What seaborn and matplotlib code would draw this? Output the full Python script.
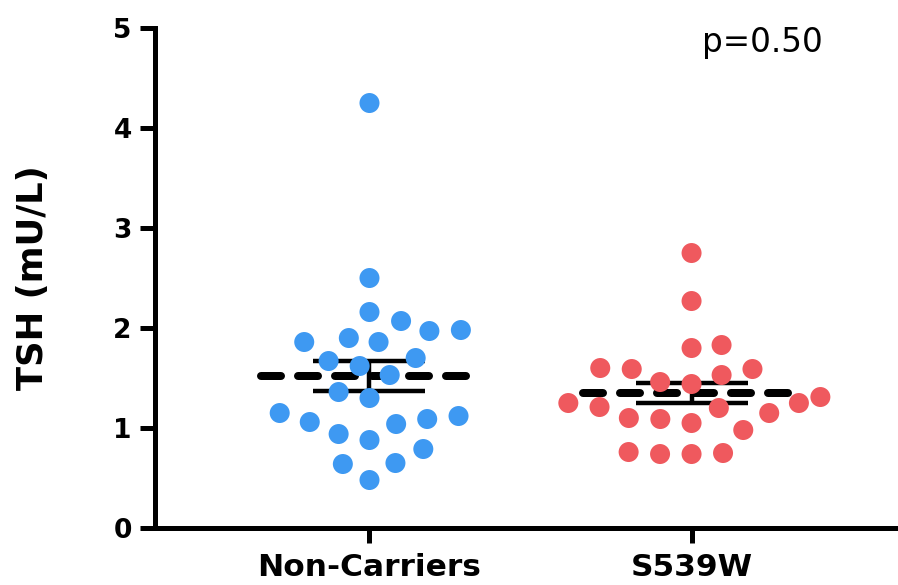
import numpy as np
import pandas as pd
import matplotlib
matplotlib.use("Agg")
import matplotlib.pyplot as plt
import seaborn as sns

# ---- data ----
categories = ["Non-Carriers", "S539W"]
non_carriers = [4.25, 2.50, 2.16, 1.98, 1.90, 1.86, 1.86, 1.97, 2.07, 1.70,
                1.67, 1.62, 1.53, 1.30, 1.36, 1.09, 1.12, 1.04, 1.15, 1.06,
                0.88, 0.94, 0.79, 0.65, 0.64, 0.48]
s539w = [2.75, 2.27, 1.83, 1.80, 1.59, 1.53, 1.59, 1.60, 1.44, 1.46,
         1.25, 1.21, 1.31, 1.25, 1.20, 1.15, 1.09, 1.05, 1.10, 0.98,
         0.75, 0.74, 0.74, 0.76]
y_ticks = [0, 1, 2, 3, 4, 5]
p_label = "p=0.50"
colors = ["#3E99F2", "#EF595E"]

df = pd.DataFrame({
    "group": [categories[0]] * len(non_carriers) + [categories[1]] * len(s539w),
    "TSH": non_carriers + s539w,
})

sns.set_style("white")
plt.rcParams["font.family"] = ["DejaVu Sans"]
plt.rcParams["lines.scale_dashes"] = False
for k in ["text.color", "axes.labelcolor", "xtick.color", "ytick.color"]:
    plt.rcParams[k] = "black"

DPI = 100
fig = plt.figure(figsize=(8.98, 5.85), dpi=DPI)
ax = fig.add_axes([0.1726, 0.0974, 0.8274, 0.8547])

marker_px = 20
swarm_px = 30
sns.swarmplot(data=df, x="group", y="TSH", hue="group", palette=colors,
              order=categories, hue_order=categories, legend=False,
              size=swarm_px * 72 / DPI, linewidth=0, zorder=3, ax=ax)

# mean (dashed) and SEM error bars
lw_mean = 8 * 72 / DPI
for i, vals in enumerate([non_carriers, s539w]):
    v = np.asarray(vals)
    m = v.mean()
    sem = v.std(ddof=1) / np.sqrt(len(v))
    ax.plot([i - 0.337, i + 0.337], [m, m], color="black", lw=lw_mean,
            dashes=(20 * 72 / DPI, 17 * 72 / DPI), dash_capstyle="round",
            solid_capstyle="round", zorder=2)
    ax.errorbar(i, m, yerr=sem, color="black", elinewidth=3.2, capthick=3.2,
                capsize=40, fmt="none", zorder=2)

ax.set_xlim(-0.666, 1.641)
ax.set_ylim(0, 5)
ax.set_yticks(y_ticks)
ax.set_yticklabels([str(t) for t in y_ticks])

for s in ["top", "right"]:
    ax.spines[s].set_visible(False)
for s in ["left", "bottom"]:
    ax.spines[s].set_linewidth(3.6)
    ax.spines[s].set_color("black")

ax.tick_params(axis="both", which="major", length=10.8, width=3.6,
               color="black", labelcolor="black", direction="out",
               left=True, bottom=True)
ax.tick_params(axis="y", pad=6, labelsize=19)
ax.tick_params(axis="x", pad=7, labelsize=22.5)
for lab in ax.get_xticklabels() + ax.get_yticklabels():
    lab.set_fontweight("bold")

ax.set_xlabel("")
ax.set_ylabel("TSH (mU/L)", fontsize=25.5, fontweight="bold", color="black")
ax.yaxis.set_label_coords(-0.141, 0.5)

ax.text(1.031, 4.76, p_label, fontsize=23.5, va="baseline", ha="left",
        color="black")

# compute swarm layout with wider spacing, then freeze and shrink markers
fig.canvas.draw()
for coll in ax.collections:
    if "draw" in coll.__dict__:
        del coll.draw
        coll.set_sizes([(marker_px * 72 / DPI) ** 2])

fig.savefig("out.png", dpi=DPI)
